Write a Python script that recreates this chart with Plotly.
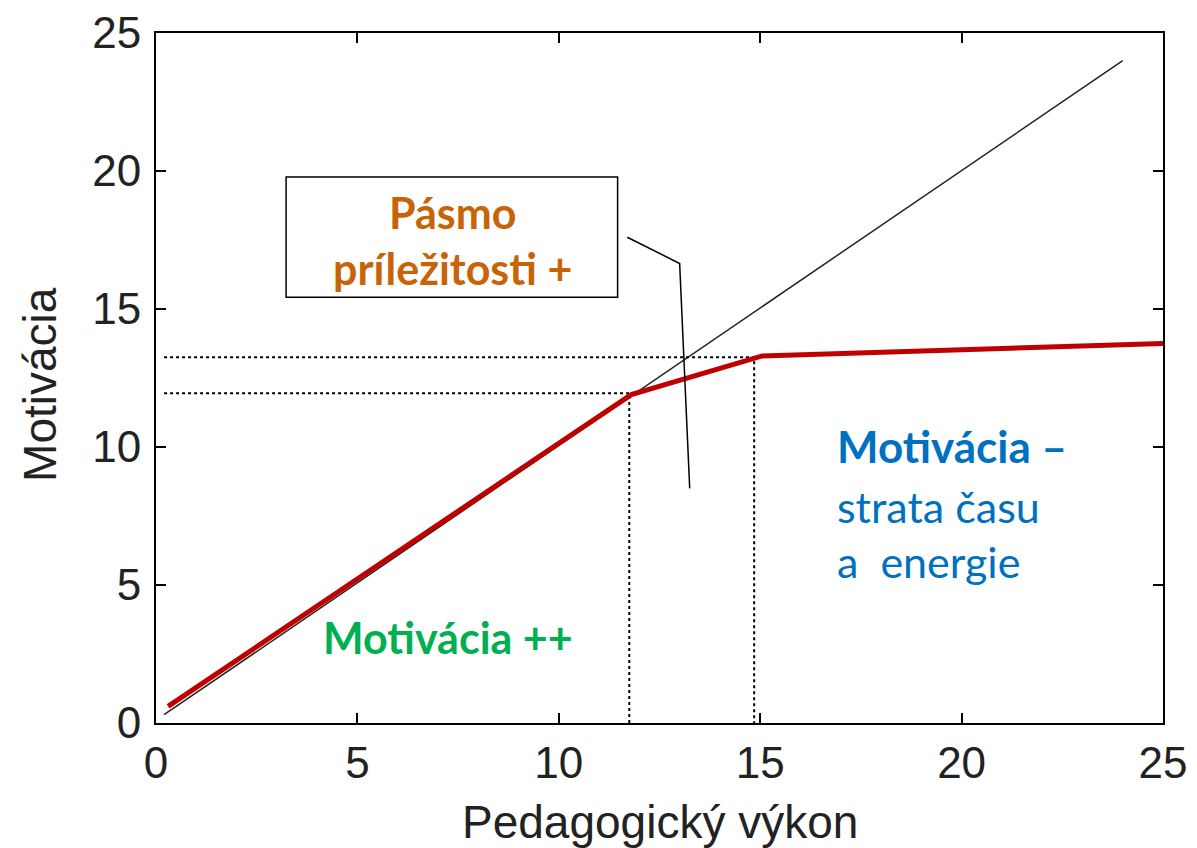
import plotly.graph_objects as go

# Data
diag_x = [0.2, 24.0]
diag_y = [0.3, 24.0]

red_x = [0.3, 11.8, 15.05, 25.0]
red_y = [0.6, 11.9, 13.3, 13.75]

# reference (dotted) levels
ref1_x = [0.2, 11.75, 11.75]
ref1_y = [11.95, 11.95, 0.0]
ref2_x = [0.2, 14.85, 14.85]
ref2_y = [13.25, 13.25, 0.0]

# callout line
call_x = [11.7, 13.0, 13.25]
call_y = [17.6, 16.65, 8.5]

tick_vals = [0, 5, 10, 15, 20, 25]

fig = go.Figure()
fig.add_trace(go.Scatter(x=diag_x, y=diag_y, mode="lines",
                         line=dict(color="#222222", width=1.5), showlegend=False))
fig.add_trace(go.Scatter(x=ref1_x, y=ref1_y, mode="lines",
                         line=dict(color="black", width=2, dash="dot"), showlegend=False))
fig.add_trace(go.Scatter(x=ref2_x, y=ref2_y, mode="lines",
                         line=dict(color="black", width=2, dash="dot"), showlegend=False))
fig.add_trace(go.Scatter(x=red_x, y=red_y, mode="lines",
                         line=dict(color="#C00000", width=5), showlegend=False))
fig.add_trace(go.Scatter(x=call_x, y=call_y, mode="lines",
                         line=dict(color="black", width=1.5), showlegend=False))

fig.add_shape(type="rect", x0=3.23, x1=11.46, y0=15.43, y1=19.78, xref="x", yref="y",
              line=dict(color="black", width=1.5), fillcolor="white", layer="above")

txt_font = "Lato, 'Noto Sans', sans-serif"
fs = 43
fig.add_annotation(x=7.35, y=18.5, text="<b>Pásmo</b>", showarrow=False,
                   font=dict(family=txt_font, size=fs, color="#C86408"))
fig.add_annotation(x=7.35, y=16.45, text="<b>príležitosti +</b>", showarrow=False,
                   font=dict(family=txt_font, size=fs, color="#C86408"))
fig.add_annotation(x=7.25, y=3.1, text="<b>Motivácia ++</b>", showarrow=False,
                   font=dict(family=txt_font, size=fs, color="#00B050"))
fig.add_annotation(x=16.85, y=10.05, text="<b>Motivácia –</b>", showarrow=False,
                   xanchor="left", font=dict(family=txt_font, size=fs + 1, color="#0070C0"))
fig.add_annotation(x=16.85, y=7.85, text="strata času", showarrow=False,
                   xanchor="left", font=dict(family=txt_font, size=fs, color="#0070C0"))
fig.add_annotation(x=16.85, y=5.85, text="a  energie", showarrow=False,
                   xanchor="left", font=dict(family=txt_font, size=fs, color="#0070C0"))

axis_font = dict(family="'Liberation Sans', Arial, sans-serif", size=44, color="#222222")
title_font = dict(family="'Liberation Sans', Arial, sans-serif", size=46, color="#222222")

# axis titles as annotations for exact placement
fig.add_annotation(x=0.5, y=0, xref="paper", yref="paper", yanchor="middle",
                   yshift=-99, text="Pedagogický výkon", showarrow=False, font=title_font)
fig.add_annotation(x=0, y=0.49, xref="paper", yref="paper", xanchor="center",
                   xshift=-116, text="Motivácia", textangle=-90, showarrow=False,
                   font=title_font)

common = dict(range=[0, 25], tickvals=tick_vals, ticks="inside", ticklen=10, tickwidth=2,
              tickcolor="black", showline=True, linecolor="black", linewidth=2,
              mirror="ticks", showgrid=False, zeroline=False, tickfont=axis_font,
              automargin=False)

fig.update_xaxes(**common)
fig.update_yaxes(**common, ticklabelstandoff=4)

# page body has an 8px default margin: compensate so the plot area lands where the reference has it
fig.update_layout(width=1189, height=840, plot_bgcolor="white", paper_bgcolor="white",
                  margin=dict(l=148, r=34, t=25, b=125), showlegend=False)

fig.write_html("out.html")
